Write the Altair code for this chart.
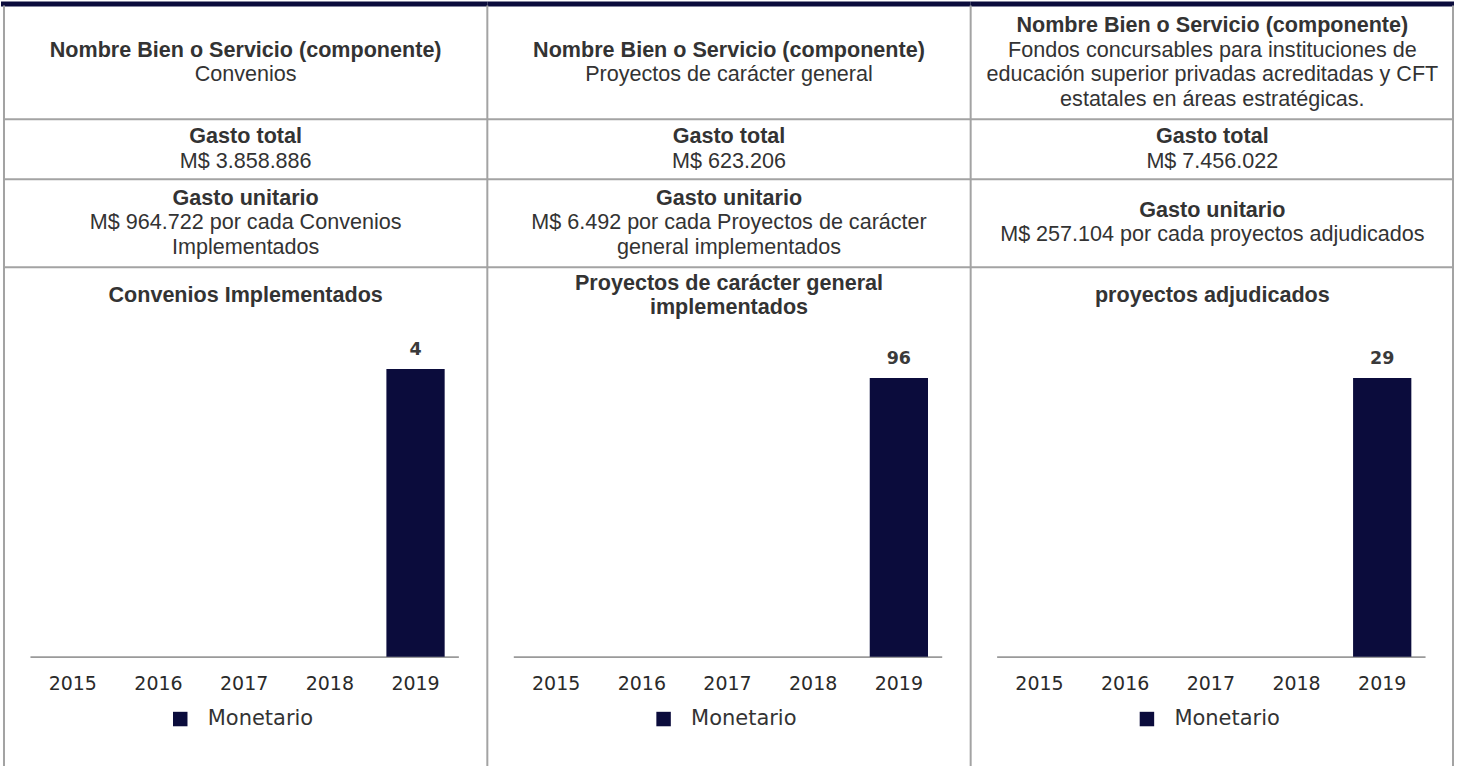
import altair as alt
import pandas as pd

# ---------------- data ----------------
years = ["2015", "2016", "2017", "2018", "2019"]
series_name = "Monetario"
values_convenios = [None, None, None, None, 4]
values_proyectos = [None, None, None, None, 96]
values_fondos = [None, None, None, None, 29]

header_label = "Nombre Bien o Servicio (componente)"
componentes = [
    ["Convenios"],
    ["Proyectos de carácter general"],
    ["Fondos concursables para instituciones de",
     "educación superior privadas acreditadas y CFT",
     "estatales en áreas estratégicas."],
]
gasto_total_label = "Gasto total"
gasto_total = ["M$ 3.858.886", "M$ 623.206", "M$ 7.456.022"]
gasto_unitario_label = "Gasto unitario"
gasto_unitario = [
    ["M$ 964.722 por cada Convenios", "Implementados"],
    ["M$ 6.492 por cada Proyectos de carácter", "general implementados"],
    ["M$ 257.104 por cada proyectos adjudicados"],
]
chart_titles = [
    ["Convenios Implementados"],
    ["Proyectos de carácter general", "implementados"],
    ["proyectos adjudicados"],
]
all_values = [values_convenios, values_proyectos, values_fondos]

# ---------------- styling / layout ----------------
H = 766
NAVY = "#0b0c3c"
BORDER = "#a3a3a3"
TXT = "#333333"
SANS = "Liberation Sans, Arial, sans-serif"
DJ = "DejaVu Sans"
FS = 21.6
LH = 24.5
ROW_BORDERS = [118, 178, 266]
AXIS_Y = 656
BAR_TOPS = [368, 377, 377]


def one():
    return alt.Data(values=[{"k": 1}])


def text_line(s, x, y, size=FS, bold=False, font=SANS):
    return alt.Chart(alt.Data(values=[{"t": s}])).mark_text(
        font=font, fontSize=size, fontWeight="bold" if bold else "normal",
        color=TXT, align="center", baseline="middle"
    ).encode(x=alt.value(x), y=alt.value(y), text="t:N")


def block(lines, x, top, bottom, bold_first=None):
    out = []
    all_lines = ([bold_first] if bold_first else []) + list(lines)
    n = len(all_lines)
    c = (top + bottom) / 2
    for i, s in enumerate(all_lines):
        y = c + (i - (n - 1) / 2) * LH
        out.append(text_line(s, x, y, bold=(bold_first is not None and i == 0)))
    return out


def hline(y, x1, x2):
    return alt.Chart(one()).mark_rule(color=BORDER, strokeWidth=2).encode(
        x=alt.value(x1), x2=alt.value(x2), y=alt.value(y))


def vline(x, y1, y2):
    return alt.Chart(one()).mark_rule(color=BORDER, strokeWidth=2).encode(
        x=alt.value(x), y=alt.value(y1), y2=alt.value(y2))


def panel(i, width, xoff, left_border, right_border):
    cx = xoff + 242
    layers = []
    # navy top band
    layers.append(alt.Chart(one()).mark_rect(color=NAVY).encode(
        x=alt.value(0), x2=alt.value(width if i < 2 else 484),
        y=alt.value(0), y2=alt.value(5)))
    x1, x2 = xoff, xoff + 484
    if i == 2:
        x2 = 483
    for yb in ROW_BORDERS:
        layers.append(hline(yb, x1, x2))
    if left_border is not None:
        layers.append(vline(left_border, 4, H))
    if right_border is not None:
        layers.append(vline(right_border, 4, H))

    layers += block(componentes[i], cx, 5, ROW_BORDERS[0], bold_first=header_label)
    layers += block([gasto_total[i]], cx, ROW_BORDERS[0], ROW_BORDERS[1], bold_first=gasto_total_label)
    layers += block(gasto_unitario[i], cx, ROW_BORDERS[1], ROW_BORDERS[2], bold_first=gasto_unitario_label)

    # chart title
    tl = chart_titles[i]
    for j, s in enumerate(tl):
        y = 295 + (j - (len(tl) - 1) / 2) * 24
        layers.append(text_line(s, cx, y, bold=True))

    vals = all_values[i]
    df = pd.DataFrame({"year": years, "value": vals, "serie": series_name})
    vmax = max(v for v in vals if v is not None)
    xenc = alt.X(
        "year:N", sort=years,
        scale=alt.Scale(domain=years, range=[xoff + 26, xoff + 455],
                        paddingInner=0.32, paddingOuter=0.16),
        axis=alt.Axis(title=None, ticks=False, tickSize=0, grid=False,
                      domainColor="#9a9a9a", domainWidth=2, labelAngle=0,
                      labelFont=DJ, labelFontSize=19, labelColor="#2a2a2a",
                      labelBaseline="middle", labelPadding=27,
                      offset=-(H - AXIS_Y)))
    yenc = alt.Y("value:Q", scale=alt.Scale(domain=[0, vmax], range=[AXIS_Y, BAR_TOPS[i]]),
                 axis=None)
    base = alt.Chart(df).transform_filter("datum.value != null")
    bars = base.mark_bar().encode(
        x=xenc, y=yenc,
        color=alt.Color("serie:N",
                        scale=alt.Scale(domain=[series_name], range=[NAVY]),
                        legend=alt.Legend(title=None, orient="none",
                                          legendX=xoff + 166, legendY=708,
                                          symbolType="square", symbolSize=210,
                                          symbolStrokeWidth=0,
                                          labelFont=DJ, labelFontSize=21,
                                          labelColor=TXT, labelOffset=17,
                                          padding=0)))
    labels = base.mark_text(font=DJ, fontSize=17.5, fontWeight="bold", color="#3a3a3a",
                            baseline="middle", dy=-19).encode(
        x=xenc, y=yenc, text=alt.Text("value:Q"))
    layers += [bars, labels]
    return alt.layer(*layers).properties(width=width, height=H)


p1 = panel(0, 487, 3, 3, None)
p2 = panel(1, 484, 0, 0, None)
p3 = panel(2, 487, 0, 0, 483)

chart = alt.hconcat(p1, p2, p3, spacing=0, bounds="flush").resolve_scale(
    color="independent", x="independent", y="independent"
).properties(
    padding={"left": 0, "right": 0, "top": 0, "bottom": 0},
    background="white",
).configure_view(stroke="transparent")

chart.save("out.html", embed_options={"renderer": "svg", "actions": False})
